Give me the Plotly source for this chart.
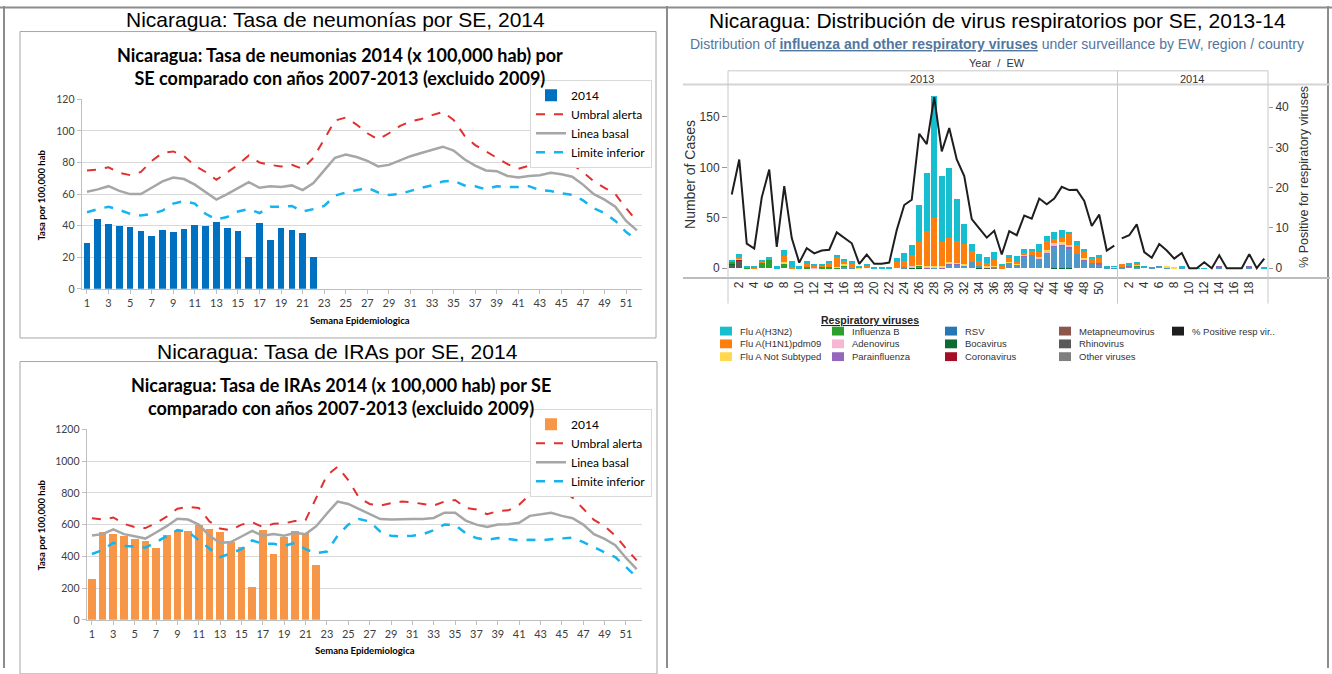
import plotly.graph_objects as go

W, H = 1332, 674
def fx(p):
    return p / W
def fy(p):
    return 1 - p / H

# ---------------- data: pneumonia (neumonias) ----------------
weeks = list(range(1, 53))
weeks_obs = list(range(1, 23))
neu_2014 = [29, 44, 41, 40, 39, 36.5, 33.5, 37.5, 36, 38, 40.5, 39.5, 42.5, 38.5, 36.5, 20, 42, 31, 38.5, 37, 35.5, 20]
neu_umbral = [75, 75.5, 77, 73.5, 72, 74, 81, 86, 87, 84, 78, 74, 69, 74, 78.5, 84.5, 80, 78.5, 77.5, 78.5,
              76, 83, 95, 106.5, 108.5, 104, 98.5, 94.5, 98.5, 103, 106, 107.5, 110, 112, 107, 97, 91, 87, 83, 79,
              76, 78, 80, 81, 80, 79, 74, 68, 64, 60, 51, 43]
neu_basal = [61.5, 63, 65, 62, 60, 60, 64, 68, 70.5, 69.5, 66, 61, 56.5, 60, 63.5, 67.5, 64, 65, 64.5, 65.5,
             62.5, 67, 75, 83, 85, 83.5, 81, 77.5, 78.5, 81.5, 84, 86, 88, 90, 87.5, 82, 78, 75, 74.5, 71.5,
             70.5, 71.5, 72, 73.5, 72.5, 71, 66, 60, 56.5, 52, 43, 37]
neu_inferior = [48.5, 50.5, 52, 50, 47.5, 46.5, 47.5, 49.5, 54, 55.5, 54, 47.5, 44, 45.5, 49, 50.5, 48, 52, 52, 52.5,
                49, 50.5, 52.5, 59, 61, 62.5, 64, 61, 59.5, 60, 62, 64, 65.5, 68, 68.5, 65.5, 65, 63, 65, 64.5,
                64.5, 65, 62.5, 62, 60.5, 59.5, 56, 51, 48, 43, 36, 31]

# ---------------- data: IRAs ----------------
ira_2014 = [258, 555, 540, 530, 510, 498, 455, 535, 560, 560, 595, 575, 555, 490, 460, 210, 568, 415, 522, 562, 550, 345]
ira_umbral = [640, 632, 645, 605, 585, 578, 610, 650, 700, 712, 705, 620, 575, 565, 600, 615, 585, 605, 608, 622,
              628, 770, 910, 965, 880, 770, 730, 720, 735, 745, 740, 730, 720, 745, 755, 705, 695, 665, 685, 690,
              725, 790, 810, 830, 820, 770, 700, 630, 590, 530, 450, 375]
ira_basal = [532, 540, 570, 540, 527, 512, 550, 590, 637, 632, 600, 530, 485, 490, 525, 560, 530, 540, 530, 548,
             540, 590, 670, 745, 730, 700, 670, 635, 632, 635, 635, 635, 642, 675, 675, 625, 600, 585, 600, 602,
             612, 655, 665, 675, 655, 640, 600, 540, 510, 470, 390, 320]
ira_inferior = [415, 440, 485, 465, 462, 455, 490, 530, 565, 555, 505, 450, 395, 420, 445, 500, 480, 480, 465, 485,
                445, 420, 430, 530, 600, 635, 620, 555, 530, 525, 530, 540, 565, 600, 598, 545, 515, 505, 515, 510,
                500, 505, 500, 508, 512, 518, 490, 455, 425, 395, 330, 270]
left_ticks = list(range(1, 52, 2))

# ---------------- data: respiratory viruses (2013 w1-52, 2014 w1-20) ----------------
ew_2013 = list(range(1, 53))
ew_2014 = list(range(1, 21))
flu_h3n2 = [1, 2.5, 0.8, 0.8, 0.5, 3, 1.8, 6, 5.5, 1.8, 3, 2, 1.5, 2, 2, 2.5, 1.5, 1.3, 2.5, 1.5,
            1, 1.5, 4, 8, 10, 37, 57.5, 121.5, 65, 69, 41, 19.5, 7, 7.5, 5.5, 8, 2.2, 3, 6, 4,
            2, 8.5, 4, 7.3, 7.5, 2.2, 3.2, 3, 1.3, 1.5, 0.5, 0.5,
            0, 1.5, 0.5, 0.3, 0, 0, 0, 0, 0.5, 0, 0.5, 0.5, 0, 0, 0, 0, 0, 0, 0, 0.5]
flu_h1n1 = [0, 1.5, 0, 1.5, 1.5, 0, 0, 6.5, 1, 0.5, 3, 1.5, 2, 4, 9.5, 3, 5, 0, 2, 0,
            0.5, 0, 6, 6, 11, 22.5, 34, 47, 24, 24, 22, 20, 11.5, 5, 3.5, 5.5, 1.5, 3.5, 0.5, 1.5,
            4, 4.5, 9, 4, 4.5, 11.2, 9.4, 6, 4.2, 6.5, 0, 0,
            3, 0, 1.5, 0, 0, 0, 0, 0, 0, 0, 0, 0, 0, 0, 0, 0, 0, 0, 0, 0]
flu_nosub = [0, 0, 0, 0, 0, 0, 0, 0.5, 0.5, 0, 0, 0, 0, 0, 0.5, 1, 0, 1, 0, 0,
             0, 0, 0, 0, 0, 0.5, 0.5, 1, 1, 1, 0.5, 0.5, 0, 0, 0.5, 0.5, 0.5, 0.5, 1, 0.5,
             0, 0.5, 0.5, 0.5, 0.5, 0.5, 0, 0.5, 0, 0, 0, 0.3,
             0, 0, 1, 0, 0, 0, 0.5, 0.5, 0.5, 0, 0, 0, 0, 0, 0, 0, 0, 0, 0, 0.5]
flu_b = [1.5, 0, 1.5, 0, 6, 8, 0, 5.5, 0, 0, 1, 0, 0.5, 1, 1, 2, 0, 0, 0, 0,
         0, 0, 0, 0, 0, 1, 0, 0, 0, 0, 0, 0, 0, 0, 0, 0, 0, 0, 0, 0,
         0, 0, 0, 0, 0, 0, 0, 0, 0, 0, 0, 0,
         0, 0, 1, 0, 0, 0, 0, 0, 0, 0, 0, 0, 0, 0, 0, 0, 0, 0, 0, 0]
adeno = [0, 0.5, 0, 0, 0, 0, 0.5, 0, 0, 0, 0, 0.5, 0, 0, 0, 0, 0, 0, 0, 0,
         0, 0, 0, 0, 2, 0, 1, 0, 0, 0, 0, 0, 0, 0, 0, 0, 0, 0, 0, 0,
         0, 1, 2.5, 1.3, 1, 1, 0, 0, 0, 0, 0, 0,
         0, 0, 0, 0, 0, 0, 0.5, 0.5, 0, 0, 0, 0, 0, 0, 0, 0, 0, 0, 0, 0]
parainf = [0, 0, 0, 0, 0, 0, 0, 0, 0, 0, 0, 0.5, 0, 0, 0, 0, 0, 0, 0, 0,
           0, 0, 0, 0, 0, 1, 0.5, 0, 0.5, 1, 1, 0, 0, 0, 0, 0, 0, 0, 0, 1,
           0, 0, 0, 1.3, 2.3, 2, 0, 1.5, 0, 1, 0, 0,
           0, 1.5, 0, 0, 0, 0, 0, 0, 0, 0, 0, 0, 0, 1, 0, 0, 0, 1, 0, 0]
rsv = [0, 0, 0, 0, 0, 0, 0, 0, 0, 0, 0, 0, 0, 0, 0, 0.5, 0.5, 0, 0, 0,
       0, 0, 0, 1, 0, 0, 0, 1.5, 0, 4, 4, 3.5, 6, 1, 0.5, 1, 0, 6, 4.5, 12.5,
       13.5, 10, 15.5, 21.5, 21.3, 19, 14, 7.8, 5.5, 1.5, 1.8, 1,
       1, 2, 1.5, 2, 1.3, 2, 1, 0, 1, 0, 0, 0, 0, 1, 0, 0, 0, 1, 0, 0]
bocavirus = [1, 0, 0, 0, 0, 0, 0, 0, 0, 0, 0, 0, 0.5, 0, 0, 0.5, 0, 0, 0, 0,
             0, 0, 0, 0, 0.5, 1, 0.5, 0, 0.5, 0, 0, 0, 0, 1, 0, 0, 0, 0, 0, 0,
             0, 0, 0, 0.5, 0.5, 0.5, 0, 0, 0, 0, 0, 0.5,
             0, 0, 0.5, 0, 0, 0, 0, 0, 0, 0, 0, 0, 0, 0, 0, 0, 0, 0, 0, 0]
coronavirus = [0, 1.5] + [0] * 70
metapneumo = [0] * 72
rhinovirus = [4.5, 8] + [0] * 32 + [1] + [0] * 37
other_virus = [0] * 35 + [1] + [0] * 13 + [2.5] + [0] * 22
pct_pos_2013 = [18.3, 27, 6.1, 4.9, 17.6, 24.5, 5.3, 20.4, 7.5, 1.4, 5, 3.7, 4.4, 4.6, 8.9, 7.5, 6.2, 1.1, 3.4, 1.1,
                1.1, 1.4, 9.5, 15.7, 17, 33.4, 30.8, 42.5, 29, 34.8, 27, 22.9, 12.2, 9.9, 7.6, 9.3, 3.4, 9.2, 8.2, 13.1,
                12.3, 17.3, 15.9, 17.3, 20.2, 19.4, 19.5, 16.7, 10.5, 13.3, 4.4, 5.6]
pct_pos_2014 = [7.4, 8.2, 10.9, 4.0, 2.6, 6.0, 4.4, 2.4, 3.8, 0, 0, 1.5, 0, 3.2, 0, 0, 0, 3.5, 0, 2.4]

# positions on the continuous year/EW axis
idx_2013 = [w - 1 for w in ew_2013]
idx_2014 = [52 + w - 1 for w in ew_2014]
idx_all = idx_2013 + idx_2014
tick_idx = [w - 1 for w in ew_2013 if w % 2 == 0 and w <= 50] + [52 + w - 1 for w in ew_2014 if w % 2 == 0 and w <= 18]
tick_txt = [str(w) for w in ew_2013 if w % 2 == 0 and w <= 50] + [str(w) for w in ew_2014 if w % 2 == 0 and w <= 18]

# stacking order bottom -> top
virus_series = [
    ("Other viruses", other_virus, "#7f7f7f"),
    ("Rhinovirus", rhinovirus, "#595959"),
    ("Metapneumovirus", metapneumo, "#8c564b"),
    ("Coronavirus", coronavirus, "#a50f26"),
    ("Bocavirus", bocavirus, "#0c6b30"),
    ("RSV", rsv, "#4f98c8"),
    ("Parainfluenza", parainf, "#9467bd"),
    ("Adenovirus", adeno, "#f7b6d2"),
    ("Influenza B", flu_b, "#2ca02c"),
    ("Flu A Not Subtyped", flu_nosub, "#ffd84d"),
    ("Flu A(H1N1)pdm09", flu_h1n1, "#ff7f0e"),
    ("Flu A(H3N2)", flu_h3n2, "#17becf"),
]
pct_name = "% Positive resp vir.."
pct_color = "#1e1e1e"
legend_cols = [["Flu A(H3N2)", "Flu A(H1N1)pdm09", "Flu A Not Subtyped"],
               ["Influenza B", "Adenovirus", "Parainfluenza"],
               ["RSV", "Bocavirus", "Coronavirus"],
               ["Metapneumovirus", "Rhinovirus", "Other viruses"],
               [pct_name]]

CAL = "Lato, 'Open Sans', sans-serif"
ARI = "Arial, 'Liberation Sans', sans-serif"

fig = go.Figure()

# ---- left charts ----
for (bars, umb, bas, inf, bcol, xa, ya, lg, bw) in [
        (neu_2014, neu_umbral, neu_basal, neu_inferior, "#0070C0", "x", "y", "legend", 0.62),
        (ira_2014, ira_umbral, ira_basal, ira_inferior, "#F79646", "x2", "y2", "legend2", 0.72)]:
    fig.add_trace(go.Bar(x=weeks_obs, y=bars, name="2014", marker=dict(color=bcol, line=dict(width=0)),
                         width=bw, xaxis=xa, yaxis=ya, legend=lg))
    fig.add_trace(go.Scatter(x=weeks, y=umb, name="Umbral alerta", mode="lines",
                             line=dict(color="#E0312F", width=2, dash="dash"), xaxis=xa, yaxis=ya, legend=lg))
    fig.add_trace(go.Scatter(x=weeks, y=bas, name="Linea basal", mode="lines",
                             line=dict(color="#A6A6A6", width=2.5), xaxis=xa, yaxis=ya, legend=lg))
    fig.add_trace(go.Scatter(x=weeks, y=inf, name="Limite inferior", mode="lines",
                             line=dict(color="#14B4F0", width=2.5, dash="dash"), xaxis=xa, yaxis=ya, legend=lg))

# ---- right chart ----
for name, vals, col in virus_series:
    fig.add_trace(go.Bar(x=idx_all, y=vals, name=name, marker=dict(color=col, line=dict(width=0)),
                         width=0.78, xaxis="x3", yaxis="y3", showlegend=False))
fig.add_trace(go.Scatter(x=idx_2013, y=pct_pos_2013, mode="lines", name=pct_name,
                         line=dict(color=pct_color, width=2), xaxis="x3", yaxis="y4", showlegend=False))
fig.add_trace(go.Scatter(x=idx_2014, y=pct_pos_2014, mode="lines", name=pct_name,
                         line=dict(color=pct_color, width=2), xaxis="x3", yaxis="y4", showlegend=False))

left_xaxis = dict(range=[0.5, 52.5], tickvals=left_ticks, showgrid=False, zeroline=False,
                  showline=True, linecolor="#BFBFBF", linewidth=1, ticks="outside", ticklen=4,
                  tickcolor="#BFBFBF", tickfont=dict(family=CAL, size=11, color="#404040"))
left_yaxis = dict(showgrid=True, gridcolor="#D9D9D9", zeroline=False, showline=True, linecolor="#BFBFBF",
                  ticks="outside", ticklen=4, tickcolor="#BFBFBF",
                  tickfont=dict(family=CAL, size=10.5, color="#404040"))

fig.update_layout(
    width=W, height=H, autosize=False,
    margin=dict(l=0, r=0, t=0, b=0),
    paper_bgcolor="white", plot_bgcolor="white",
    barmode="stack",
    font=dict(family=ARI),
    xaxis=dict(left_xaxis, domain=[fx(81.6), fx(642.3)], anchor="y"),
    yaxis=dict(left_yaxis, domain=[fy(288), fy(95)], range=[0, 120], dtick=20, anchor="x"),
    xaxis2=dict(left_xaxis, domain=[fx(86.6), fx(642)], anchor="y2"),
    yaxis2=dict(left_yaxis, domain=[fy(625), fy(431)], range=[0, 1200], dtick=200, anchor="x2"),
    xaxis3=dict(domain=[fx(728), fx(1268)], range=[-0.5, 71.5], anchor="y3", tickvals=tick_idx,
                ticktext=tick_txt, tickangle=-90, showgrid=False, zeroline=False, showline=False, ticks="",
                tickfont=dict(family=ARI, size=12, color="#333333")),
    yaxis3=dict(domain=[fy(277), fy(80)], range=[-9.74, 182.1], anchor="x3", tickvals=[0, 50, 100, 150],
                showgrid=False, zeroline=False, showline=False, ticks="outside", ticklen=5, tickcolor="#9a9a9a",
                tickfont=dict(family=ARI, size=12, color="#333333")),
    yaxis4=dict(overlaying="y3", side="right", anchor="x3", range=[-2.44, 45.6], tickvals=[0, 10, 20, 30, 40],
                showgrid=False, zeroline=False, showline=False, ticks="outside", ticklen=4, tickcolor="#9a9a9a",
                tickfont=dict(family=ARI, size=12, color="#333333")),
    legend=dict(x=fx(530), y=fy(75), xanchor="left", yanchor="top", bgcolor="white", traceorder="normal",
                bordercolor="#D9D9D9", borderwidth=1, font=dict(family=CAL, size=12, color="#000"),
                itemwidth=30, tracegroupgap=0),
    legend2=dict(x=fx(530), y=fy(410), xanchor="left", yanchor="top", bgcolor="white", traceorder="normal",
                 bordercolor="#D9D9D9", borderwidth=1, font=dict(family=CAL, size=12, color="#000"),
                 itemwidth=30, tracegroupgap=0),
)

shapes = []
def line(x0, y0, x1, y1, color, w=1):
    shapes.append(dict(type="line", xref="paper", yref="paper", x0=fx(x0), y0=fy(y0), x1=fx(x1), y1=fy(y1),
                       line=dict(color=color, width=w)))
def rect(x0, y0, x1, y1, color, w=1, fill=None):
    d = dict(type="rect", xref="paper", yref="paper", x0=fx(x0), y0=fy(y0), x1=fx(x1), y1=fy(y1),
             line=dict(color=color, width=w))
    if fill:
        d["fillcolor"] = fill
    shapes.append(d)

# page frame
line(0, 1.5, W, 1.5, "#8c8c8c", 2)
line(4, 0, 4, H, "#8c8c8c", 2)
line(667, 0, 667, H, "#8c8c8c", 2)
line(1328, 0, 1328, H, "#8c8c8c", 2)
# left chart boxes
rect(20, 26, 656, 338, "#A6A6A6", 1)
rect(20, 362, 657, 680, "#A6A6A6", 1)
# right chart table lines
line(728, 66, 1268, 66, "#c8c8c8", 1)
line(683, 80, 1330, 80, "#d4d4d4", 2)
line(683, 277, 1330, 277, "#bdbdbd", 2)
for xv in (728, 1117.5, 1268):
    line(xv, 66, xv, 303, "#c8c8c8", 1)

annotations = []
def txt(x, y, s, size, color="#000", family=ARI, angle=0, xanchor="center"):
    annotations.append(dict(x=fx(x), y=fy(y), xref="paper", yref="paper", text=s, showarrow=False,
                            xanchor=xanchor, yanchor="middle", textangle=angle,
                            font=dict(size=size, color=color, family=family)))

txt(336, 14, "Nicaragua: Tasa de neumonías por SE, 2014", 21)
txt(337, 352, "Nicaragua: Tasa de IRAs por SE, 2014", 21)
txt(997, 15, "Nicaragua: Distribución de virus respiratorios por SE, 2013-14", 21)
txt(340, 62, "<b>Nicaragua: Tasa de neumonias 2014 (x 100,000 hab) por<br>SE comparado con años 2007-2013 (excluido 2009)</b>", 18, family=CAL)
txt(341, 398, "<b>Nicaragua: Tasa de IRAs 2014 (x 100,000 hab) por SE<br>comparado con años 2007-2013 (excluido 2009)</b>", 18, family=CAL)
txt(42, 192, "<b>Tasa por 100,000 hab</b>", 9.5, family=CAL, angle=-90)
txt(42, 528, "<b>Tasa por 100,000 hab</b>", 9.5, family=CAL, angle=-90)
txt(360, 320, "<b>Semana Epidemiologica</b>", 9.5, family=CAL)
txt(365, 656, "<b>Semana Epidemiologica</b>", 9.5, family=CAL)

txt(997, 39, "Distribution of <b><u>influenza and other respiratory viruses</u></b> under surveillance by EW, region / country",
    14, color="#52769e")
txt(997, 58, "Year  /  EW", 11, color="#333")
txt(922, 74, "2013", 11, color="#333")
txt(1192, 74, "2014", 11, color="#333")
txt(690, 172, "Number of Cases", 14, color="#333", angle=-90)
txt(1304, 174, "% Positive for respiratory viruses", 12.5, color="#333", angle=-90)

# right legend (manual grid)
colors = {n: c for n, _, c in virus_series}
colors["RSV"] = "#2677b5"
colors[pct_name] = pct_color
txt(870, 320, "<b><u>Respiratory viruses</u></b>", 10.5, color="#222")
col_x = [720, 832, 945, 1059, 1172]
row_y = [331, 344, 357]
for ci, names in enumerate(legend_cols):
    for ri, n in enumerate(names):
        rect(col_x[ci], row_y[ri] - 4.5, col_x[ci] + 12, row_y[ri] + 4.5, colors[n], 0, colors[n])
        txt(col_x[ci] + 18, row_y[ri], n, 9.5, color="#333", xanchor="left")

fig.update_layout(shapes=shapes, annotations=annotations)
fig.write_html("out.html", config={"displayModeBar": False},
               post_script="document.body.style.margin='0';document.body.style.overflow='hidden';")
